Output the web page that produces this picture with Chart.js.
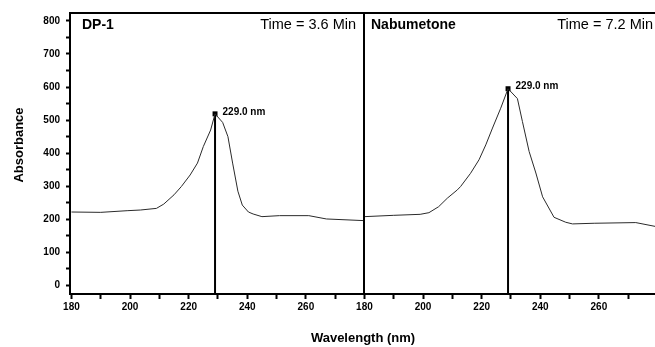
<!DOCTYPE html>
<html><head><meta charset="utf-8">
<script src="https://cdn.jsdelivr.net/npm/chart.js@4/dist/chart.umd.min.js"></script>
<style>html,body{margin:0;padding:0;background:#fff;overflow:hidden}#wrap{width:655px;height:347px;position:relative;overflow:hidden}canvas{display:block}</style>
</head><body><div id="wrap"><canvas id="c" width="660" height="347"></canvas></div>
<script>
// ---- data ----
const panelNames = ['DP-1', 'Nabumetone'];
const panelTimes = ['Time = 3.6 Min', 'Time = 7.2 Min'];
const dp1Wavelength = [180, 190, 199, 203.5, 209, 211.5, 215, 217.5, 220.5, 223, 225, 227.5, 229, 231.6, 233.4, 235, 236.8, 238.3, 240.4, 242, 245, 251, 261, 267, 279.8];
const dp1Absorbance = [222, 221, 226, 228, 233, 246, 274, 299, 334, 370, 420, 470, 519, 493, 450, 370, 285, 243, 222, 216, 208, 211, 211, 201, 196];
const nabWavelength = [180, 190, 199, 202, 205.3, 208.3, 211.7, 212.8, 216.2, 219.1, 221.4, 223.7, 226.5, 229, 232.2, 233.9, 236.2, 238.5, 240.8, 244.7, 248.7, 251, 258.4, 272.6, 279.5];
const nabAbsorbance = [208, 212, 215, 220, 238, 264, 289, 299, 339, 380, 425, 476, 536, 595, 565, 496, 405, 340, 268, 206, 191, 186, 188, 190, 178];
const peakWavelength = [229.0, 229.0];
const peakAbsorbance = [519, 595];
const peakLabels = ['229.0 nm', '229.0 nm'];
const xTickValues = [180, 190, 200, 210, 220, 230, 240, 250, 260, 270];
const yTickValues = [0, 50, 100, 150, 200, 250, 300, 350, 400, 450, 500, 550, 600, 650, 700, 750, 800];
const panelSpan = 100;          // each panel covers 180-280 nm
const xMin = 179.5, xMax = 379.5;
const yMin = -26, yMax = 824;

// ---- build ----
const FONT = '"Liberation Sans", Arial, sans-serif';
const series = [[dp1Wavelength, dp1Absorbance], [nabWavelength, nabAbsorbance]];
const datasets = [];
series.forEach(([w, a], p) => {
  datasets.push({
    data: w.map((v, i) => ({x: v + p * panelSpan, y: a[i]})),
    showLine: true, borderColor: '#2a2a2a', borderWidth: 1, pointRadius: 0, tension: 0
  });
});
peakWavelength.forEach((w, p) => {
  datasets.push({
    data: [{x: w + p * panelSpan, y: yMin}, {x: w + p * panelSpan, y: peakAbsorbance[p]}],
    showLine: true, borderColor: '#000', borderWidth: 2,
    pointRadius: [0, 3.5], pointStyle: 'rect', pointBackgroundColor: '#000', pointBorderColor: '#000', pointBorderWidth: 0
  });
});
const xTicksAll = [];
panelNames.forEach((_, p) => xTickValues.forEach(v => xTicksAll.push(v + p * panelSpan)));

const overlay = {
  id: 'overlay',
  afterDatasetsDraw(chart) {
    const {ctx, chartArea: ca, scales: {x, y}} = chart;
    ctx.save();
    ctx.strokeStyle = '#000';
    ctx.lineWidth = 2;
    // top frame
    ctx.beginPath(); ctx.moveTo(ca.left - 1, ca.top); ctx.lineTo(ca.right, ca.top); ctx.stroke();
    // panel divider
    const dx = Math.round(x.getPixelForValue(180 + panelSpan));
    ctx.beginPath(); ctx.moveTo(dx, ca.top); ctx.lineTo(dx, ca.bottom); ctx.stroke();
    // peak labels
    ctx.fillStyle = '#000';
    ctx.font = 'bold 10px ' + FONT;
    ctx.textAlign = 'left'; ctx.textBaseline = 'middle';
    peakWavelength.forEach((w, p) => {
      const px = x.getPixelForValue(w + p * panelSpan);
      const py = y.getPixelForValue(peakAbsorbance[p]);
      ctx.fillText(peakLabels[p], px + 7.5, py - 2);
    });
    // panel titles
    const starts = [ca.left + 12, dx + 7];
    const ends = [dx - 8, ca.right - 3];
    panelNames.forEach((n, p) => {
      ctx.font = 'bold 14px ' + FONT;
      ctx.textAlign = 'left';
      ctx.fillText(n, starts[p], ca.top + 12);
      ctx.font = '14.5px ' + FONT;
      ctx.textAlign = 'right';
      ctx.fillText(panelTimes[p], ends[p], ca.top + 11.5);
    });
    // y title
    ctx.font = 'bold 13px ' + FONT;
    ctx.textAlign = 'center';
    ctx.translate(19, 145);
    ctx.rotate(-Math.PI / 2);
    ctx.fillText('Absorbance', 0, 0);
    ctx.restore();
  }
};

new Chart(document.getElementById('c'), {
  type: 'scatter',
  data: {datasets},
  options: {
    responsive: false, animation: false, devicePixelRatio: 1,
    layout: {padding: {top: 13, right: 0, left: 0, bottom: 0}},
    plugins: {legend: {display: false}, tooltip: {enabled: false}},
    scales: {
      x: {
        type: 'linear', min: xMin, max: xMax,
        afterBuildTicks: s => { s.ticks = xTicksAll.map(v => ({value: v})); },
        afterFit: s => { s.height = 53; s.paddingLeft = 0; s.paddingRight = 0; },
        ticks: {
          autoSkip: false, maxRotation: 0, color: '#000', padding: 2,
          font: {family: FONT, size: 10, weight: 'bold'},
          callback: v => ((v - 180) % 20 === 0 ? String(v >= 180 + panelSpan ? v - panelSpan : v) : '')
        },
        grid: {drawOnChartArea: false, drawTicks: true, tickLength: 5, tickWidth: 2, tickColor: '#000'},
        border: {display: true, color: '#000', width: 2},
        title: {display: true, text: 'Wavelength (nm)', color: '#000',
          font: {family: FONT, size: 13, weight: 'bold'}, padding: {top: 0, bottom: 1}}
      },
      y: {
        type: 'linear', min: yMin, max: yMax,
        afterBuildTicks: s => { s.ticks = yTickValues.map(v => ({value: v})); },
        afterFit: s => { s.width = 70; s.paddingTop = 0; s.paddingBottom = 0; },
        ticks: {
          autoSkip: false, color: '#000', padding: 6,
          font: {family: FONT, size: 10, weight: 'bold'},
          callback: v => (v % 100 === 0 ? String(v) : '')
        },
        grid: {drawOnChartArea: false, drawTicks: true, tickLength: 4, tickWidth: 2, tickColor: '#000'},
        border: {display: true, color: '#000', width: 2}
      }
    }
  },
  plugins: [overlay]
});
</script></body></html>
